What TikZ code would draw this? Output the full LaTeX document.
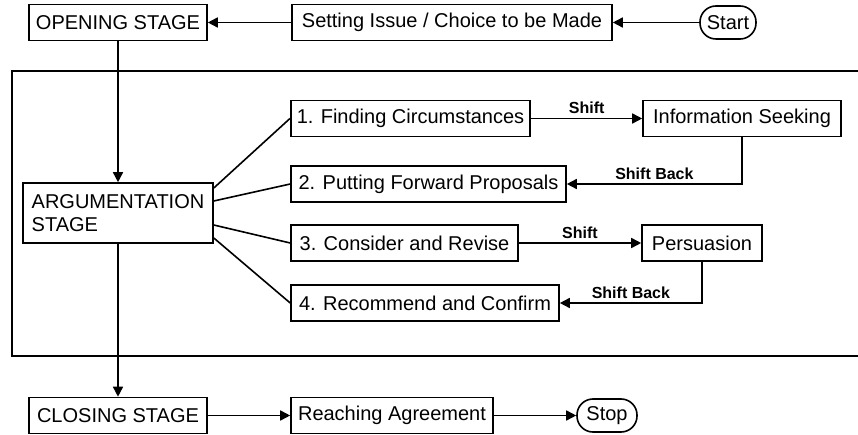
\documentclass[tikz,border=0pt]{standalone}
\usepackage{fontspec}
\setmainfont{Liberation Sans}
\usetikzlibrary{arrows.meta}

\tikzset{
  stage/.style={draw, line width=1.6pt, minimum height=36pt, inner xsep=6pt,
    font=\fontsize{20}{23}\selectfont},
  term/.style={stage, rounded corners=16pt, minimum height=33pt},
  link/.style={line width=1.6pt},
  flow/.style={link, -{Triangle[length=10pt,width=10pt]}},
  tag/.style={font=\fontsize{16}{18}\selectfont\bfseries, inner sep=4pt}
}

\begin{document}
\begin{tikzpicture}[x=1pt,y=-1pt]
  \useasboundingbox (0,0) rectangle (858,435);
  \clip (0,0) rectangle (858,435);

  % opening row
  \node[stage, minimum width=178pt] (open) at (118,22.5) {OPENING STAGE};
  \node[stage, minimum width=320pt] (issue) at (452,22.5) {Setting Issue / Choice to be Made};
  \node[term, minimum width=56pt] (start) at (728,22.5) {Start};
  \draw[flow] (start) -- (issue);
  \draw[flow] (issue) -- (open);

  % argumentation frame
  \draw[link] (12,71) rectangle (880,356);
  \node[stage, align=left, minimum width=190pt, minimum height=60pt] (arg) at (118,213)
    {ARGUMENTATION\\STAGE};
  \draw[flow] (open) -- (arg);

  \node[stage, minimum width=239pt] (b1) at (410.5,118.5) {1. Finding Circumstances};
  \node[stage, minimum width=198pt] (info) at (742,118.5) {Information Seeking};
  \node[stage, minimum width=275pt] (b2) at (428.5,184) {2. Putting Forward Proposals};
  \node[stage, minimum width=227pt] (b3) at (404.5,243) {3. Consider and Revise};
  \node[stage, minimum width=120pt] (pers) at (702,243) {Persuasion};
  \node[stage, minimum width=268pt] (b4) at (425,303) {4. Recommend and Confirm};

  \foreach \b/\d in {b1/25,b2/12,b3/-12,b4/-25}
    \draw[link] ([yshift=\d pt]arg.east) -- (\b.west);

  \draw[flow] (b1) -- node[tag, above] {Shift} (info);
  \draw[flow] (info.south) |- node[tag, above, pos=0.75] {Shift Back} (b2.east);
  \draw[flow] (b3) -- node[tag, above] {Shift} (pers);
  \draw[flow] (pers.south) |- node[tag, above, pos=0.75] {Shift Back} (b4.east);

  % closing row
  \node[stage, minimum width=178pt] (close) at (118,415.5) {CLOSING STAGE};
  \node[stage, minimum width=202pt] (agree) at (392,415.5) {Reaching Agreement};
  \node[term, minimum width=60pt] (stop) at (607,415.5) {Stop};
  \draw[flow] (arg) -- (close);
  \draw[flow] (close) -- (agree);
  \draw[flow] (agree) -- (stop);
\end{tikzpicture}
\end{document}
